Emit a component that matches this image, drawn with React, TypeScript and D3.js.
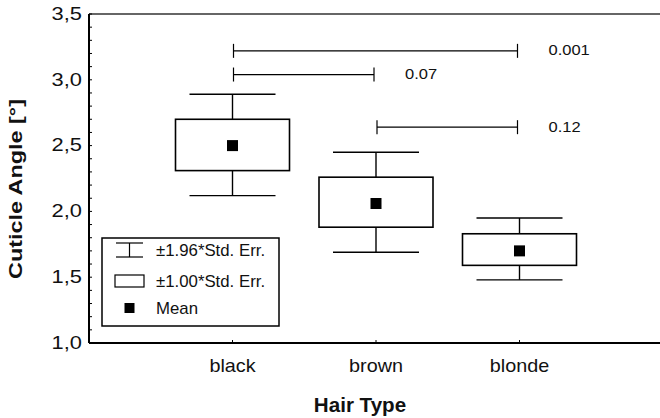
import { useEffect, useRef } from 'react'
import * as d3 from 'd3'

const categories = ['black', 'brown', 'blonde']
const means = [2.5, 2.06, 1.7]
const seLow = [2.31, 1.88, 1.59]
const seHigh = [2.7, 2.26, 1.83]
const ciLow = [2.12, 1.69, 1.48]
const ciHigh = [2.89, 2.45, 1.95]
const yTicks = [1.0, 1.5, 2.0, 2.5, 3.0, 3.5]

// significance brackets: from / to category index, height, p value
const bracketFrom = [0, 0, 1]
const bracketTo = [2, 1, 2]
const bracketY = [3.22, 3.04, 2.64]
const bracketLabels = ['0.001', '0.07', '0.12']

const legendLabels = ['±1.96*Std. Err.', '±1.00*Std. Err.', 'Mean']

const W = 660
const H = 418
const FONT = '"Liberation Sans", Arial, sans-serif'
const SX = 1.1 // the scanned figure's text is a bit wide

export default function App() {
  const svgRef = useRef<SVGSVGElement>(null)

  useEffect(() => {
    if (!svgRef.current) return
    const svg = d3.select(svgRef.current)
    svg.selectAll('*').remove()

    const left = 89
    const top = 14
    const bottom = 343

    // category slots 1..3 on a 0..4 axis
    const x = d3.scaleLinear([0, 4], [left, 663])
    const y = d3.scaleLinear([1, 3.5], [bottom, top])

    const g = svg.append('g').attr('font-family', FONT).attr('fill', '#111')

    // frame: left axis, bottom axis, top line
    g.append('line').attr('x1', left).attr('x2', W).attr('y1', top).attr('y2', top)
      .attr('stroke', '#333').attr('stroke-width', 1.5)
    g.append('line').attr('x1', left).attr('x2', W).attr('y1', bottom).attr('y2', bottom)
      .attr('stroke', '#000').attr('stroke-width', 2)
    g.append('line').attr('x1', left).attr('x2', left).attr('y1', top).attr('y2', bottom)
      .attr('stroke', '#000').attr('stroke-width', 2)

    // minor ticks every 0.1 (inside)
    const minor = d3.range(10, 36).map(v => v / 10)
    g.selectAll('line.minor').data(minor).join('line')
      .attr('x1', left).attr('x2', left + 3)
      .attr('y1', d => y(d)).attr('y2', d => y(d))
      .attr('stroke', '#000').attr('stroke-width', 1)

    g.selectAll('text.ytick').data(yTicks).join('text')
      .attr('transform', d => `translate(82,${y(d) - 1}) scale(1.15,1)`).attr('dy', '0.36em')
      .attr('text-anchor', 'end').attr('font-size', 19)
      .text(d => d3.format('.1f')(d).replace('.', ','))

    // x ticks + labels
    g.selectAll('line.xtick').data(categories).join('line')
      .attr('x1', (d, i) => x(i + 1)).attr('x2', (d, i) => x(i + 1))
      .attr('y1', bottom).attr('y2', bottom - 3)
      .attr('stroke', '#000').attr('stroke-width', 1)
    g.selectAll('text.xlab').data(categories).join('text')
      .attr('transform', (d, i) => `translate(${x(i + 1)},372) scale(${SX},1)`)
      .attr('text-anchor', 'middle').attr('font-size', 18)
      .text(d => d)

    // axis titles
    g.append('text').attr('transform', 'translate(360,412) scale(1.03,1)').attr('text-anchor', 'middle')
      .attr('font-size', 20).attr('font-weight', 'bold').text('Hair Type')
    g.append('text').attr('transform', 'translate(22,189) rotate(-90) scale(1.3,1)')
      .attr('text-anchor', 'middle').attr('font-size', 18).attr('font-weight', 'bold')
      .text('Cuticle Angle [°]')

    // whiskers, boxes, means
    const capHalf = 43
    const boxHalf = 57
    const groups = g.selectAll('g.cat').data(categories).join('g')
      .attr('transform', (d, i) => `translate(${x(i + 1)},0)`)
    groups.append('line')
      .attr('y1', (d, i) => y(ciHigh[i])).attr('y2', (d, i) => y(seHigh[i]))
      .attr('stroke', '#000').attr('stroke-width', 1.4)
    groups.append('line')
      .attr('y1', (d, i) => y(seLow[i])).attr('y2', (d, i) => y(ciLow[i]))
      .attr('stroke', '#000').attr('stroke-width', 1.4)
    groups.append('line').attr('x1', -capHalf).attr('x2', capHalf)
      .attr('y1', (d, i) => y(ciHigh[i])).attr('y2', (d, i) => y(ciHigh[i]))
      .attr('stroke', '#000').attr('stroke-width', 1.4)
    groups.append('line').attr('x1', -capHalf).attr('x2', capHalf)
      .attr('y1', (d, i) => y(ciLow[i])).attr('y2', (d, i) => y(ciLow[i]))
      .attr('stroke', '#000').attr('stroke-width', 1.4)
    groups.append('rect').attr('x', -boxHalf).attr('width', boxHalf * 2)
      .attr('y', (d, i) => y(seHigh[i]))
      .attr('height', (d, i) => y(seLow[i]) - y(seHigh[i]))
      .attr('fill', 'white').attr('stroke', '#000').attr('stroke-width', 1.6)
    groups.append('rect').attr('x', -5.5).attr('width', 11).attr('height', 11)
      .attr('y', (d, i) => y(means[i]) - 5.5).attr('fill', '#000')

    // significance brackets
    const br = g.selectAll('g.br').data(bracketLabels).join('g')
    br.append('line')
      .attr('x1', (d, i) => x(bracketFrom[i] + 1) + 1).attr('x2', (d, i) => x(bracketTo[i] + 1) - 2)
      .attr('y1', (d, i) => y(bracketY[i])).attr('y2', (d, i) => y(bracketY[i]))
      .attr('stroke', '#000').attr('stroke-width', 1.2)
    br.append('line')
      .attr('x1', (d, i) => x(bracketFrom[i] + 1) + 1).attr('x2', (d, i) => x(bracketFrom[i] + 1) + 1)
      .attr('y1', (d, i) => y(bracketY[i]) - 7).attr('y2', (d, i) => y(bracketY[i]) + 7)
      .attr('stroke', '#000').attr('stroke-width', 1.2)
    br.append('line')
      .attr('x1', (d, i) => x(bracketTo[i] + 1) - 2).attr('x2', (d, i) => x(bracketTo[i] + 1) - 2)
      .attr('y1', (d, i) => y(bracketY[i]) - 7).attr('y2', (d, i) => y(bracketY[i]) + 7)
      .attr('stroke', '#000').attr('stroke-width', 1.2)
    br.append('text')
      .attr('transform', (d, i) => `translate(${x(bracketTo[i] + 1) + 29},${y(bracketY[i]) - 1}) scale(${SX},1)`)
      .attr('dy', '0.36em').attr('font-size', 15)
      .text(d => d)

    // legend
    const lg = g.append('g').attr('transform', 'translate(102,238)')
    lg.append('rect').attr('width', 177).attr('height', 88)
      .attr('fill', 'white').attr('stroke', '#000').attr('stroke-width', 1.5)
    const rowY = [12, 43, 70]
    // whisker icon
    lg.append('line').attr('x1', 14).attr('x2', 41).attr('y1', rowY[0] - 7).attr('y2', rowY[0] - 7)
      .attr('stroke', '#000').attr('stroke-width', 1.2)
    lg.append('line').attr('x1', 14).attr('x2', 41).attr('y1', rowY[0] + 7).attr('y2', rowY[0] + 7)
      .attr('stroke', '#000').attr('stroke-width', 1.2)
    lg.append('line').attr('x1', 27.5).attr('x2', 27.5).attr('y1', rowY[0] - 7).attr('y2', rowY[0] + 7)
      .attr('stroke', '#000').attr('stroke-width', 1.2)
    // box icon
    lg.append('rect').attr('x', 13).attr('y', rowY[1] - 6).attr('width', 29).attr('height', 12)
      .attr('fill', 'white').attr('stroke', '#000').attr('stroke-width', 1.2)
    // mean icon
    lg.append('rect').attr('x', 22.5).attr('y', rowY[2] - 5).attr('width', 10).attr('height', 10).attr('fill', '#000')
    lg.selectAll('text').data(legendLabels).join('text')
      .attr('transform', (d, i) => `translate(54,${rowY[i]}) scale(1.05,1)`).attr('dy', '0.36em')
      .attr('font-size', 16).text(d => d)
  }, [])

  return (
    <svg ref={svgRef} width={W} height={H}
      style={{ position: 'absolute', left: 0, top: 0, display: 'block', background: 'white' }} />
  )
}
